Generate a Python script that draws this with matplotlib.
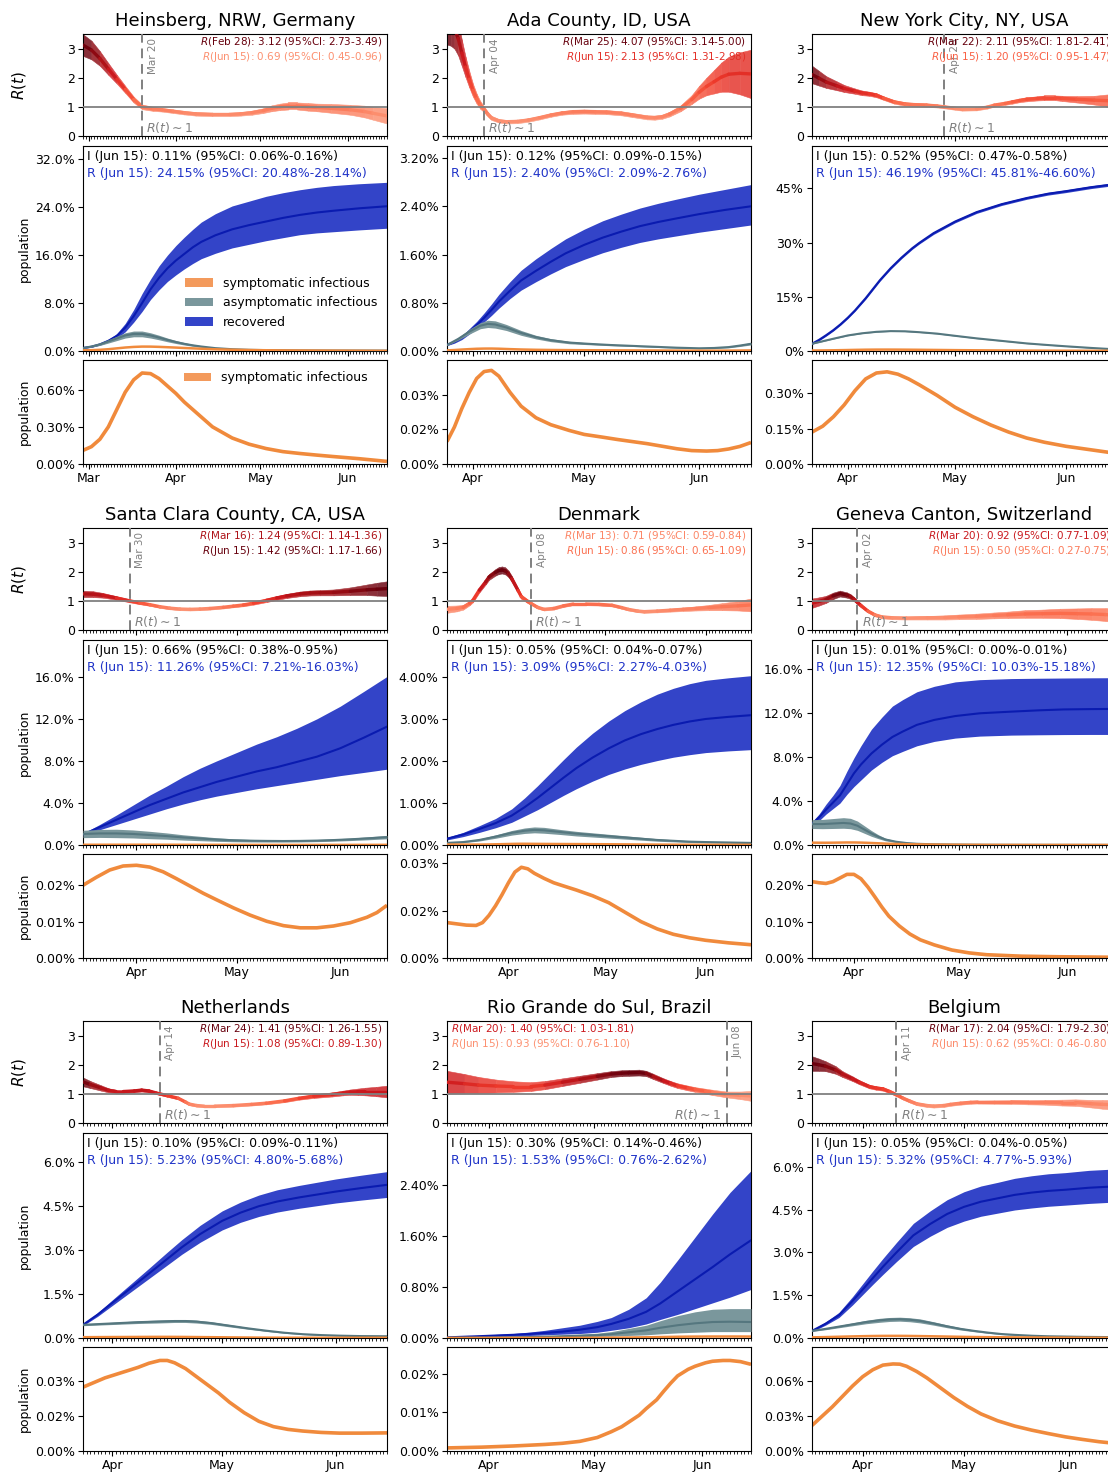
import numpy as np
import matplotlib
matplotlib.use("Agg")
import matplotlib.pyplot as plt
import matplotlib.dates as mdates
from matplotlib.colors import LinearSegmentedColormap, Normalize, to_rgb
from matplotlib.collections import LineCollection
from matplotlib.patches import Patch
from matplotlib.ticker import FixedLocator, FuncFormatter

# ------------------------------------------------------------------ data
TITLES = ["Heinsberg, NRW, Germany", "Ada County, ID, USA", "New York City, NY, USA",
          "Santa Clara County, CA, USA", "Denmark", "Geneva Canton, Switzerland",
          "Netherlands", "Rio Grande do Sul, Brazil", "Belgium"]
START_DATES = ["2020-02-28", "2020-03-25", "2020-03-22", "2020-03-16", "2020-03-13",
               "2020-03-20", "2020-03-24", "2020-03-20", "2020-03-17"]
END_DATE = "2020-06-15"
R1_DATES = ["2020-03-20", "2020-04-04", "2020-04-28", "2020-03-30", "2020-04-08",
            "2020-04-02", "2020-04-14", "2020-06-08", "2020-04-11"]

R_FIRST = [3.12, 4.07, 2.11, 1.24, 0.71, 0.92, 1.41, 1.40, 2.04]
R_FIRST_LO = [2.73, 3.14, 1.81, 1.14, 0.59, 0.77, 1.26, 1.03, 1.79]
R_FIRST_HI = [3.49, 5.00, 2.41, 1.36, 0.84, 1.09, 1.55, 1.81, 2.30]
R_LAST = [0.69, 2.13, 1.20, 1.42, 0.86, 0.50, 1.08, 0.93, 0.62]
R_LAST_LO = [0.45, 1.31, 0.95, 1.17, 0.65, 0.27, 0.89, 0.76, 0.46]
R_LAST_HI = [0.96, 2.98, 1.47, 1.66, 1.09, 0.75, 1.30, 1.10, 0.80]
I_LAST = [0.11, 0.12, 0.52, 0.66, 0.05, 0.01, 0.10, 0.30, 0.05]
I_LAST_LO = [0.06, 0.09, 0.47, 0.38, 0.04, 0.00, 0.09, 0.14, 0.04]
I_LAST_HI = [0.16, 0.15, 0.58, 0.95, 0.07, 0.01, 0.11, 0.46, 0.05]
REC_LAST = [24.15, 2.40, 46.19, 11.26, 3.09, 12.35, 5.23, 1.53, 5.32]
REC_LAST_LO = [20.48, 2.09, 45.81, 7.21, 2.27, 10.03, 4.80, 0.76, 4.77]
REC_LAST_HI = [28.14, 2.76, 46.60, 16.03, 4.03, 15.18, 5.68, 2.62, 5.93]

POP_TICKS = [[0, 8, 16, 24, 32], [0, 0.8, 1.6, 2.4, 3.2], [0, 15, 30, 45],
             [0, 4, 8, 12, 16], [0, 1, 2, 3, 4], [0, 4, 8, 12, 16],
             [0, 1.5, 3.0, 4.5, 6.0], [0, 0.8, 1.6, 2.4], [0, 1.5, 3.0, 4.5, 6.0]]
POP_DEC = [1, 2, 0, 1, 2, 1, 1, 2, 1]
POP_YMAX = [34.2, 3.4, 56.7, 19.5, 4.88, 18.6, 7.0, 3.21, 7.19]
SYM_TICKS = [[0, 0.3, 0.6], [0, 0.015, 0.03], [0, 0.15, 0.30], [0, 0.01, 0.02],
             [0, 0.015, 0.03], [0, 0.1, 0.2], [0, 0.015, 0.03], [0, 0.01, 0.02],
             [0, 0.03, 0.06]]
SYM_YMAX = [0.84, 0.045, 0.44, 0.0286, 0.0329, 0.286, 0.0448, 0.027, 0.0896]

# --- Heinsberg
HEI_R_DAYS = [0, 3, 6, 9, 12, 15, 18, 21, 25, 28, 32, 36, 40, 46, 52, 56, 60, 64, 67, 70, 73, 76, 80, 83, 88, 95, 100, 103, 108]
HEI_R = [3.12, 2.95, 2.66, 2.3, 1.95, 1.6, 1.25, 1.0, 0.93, 0.9, 0.85, 0.8, 0.76, 0.74, 0.74, 0.76, 0.8, 0.87, 0.95, 1.0, 1.03, 1.03, 1.0, 0.98, 0.95, 0.9, 0.84, 0.78, 0.69]
HEI_R_ERR = [0.37, 0.32, 0.25, 0.2, 0.15, 0.12, 0.1, 0.08, 0.07, 0.06, 0.06, 0.06, 0.06, 0.06, 0.06, 0.06, 0.07, 0.08, 0.1, 0.11, 0.12, 0.12, 0.13, 0.13, 0.15, 0.17, 0.2, 0.22, 0.26]
HEI_P_DAYS = [0, 3, 6, 9, 12, 15, 18, 21, 24, 27, 30, 33, 36, 39, 42, 47, 53, 59, 65, 71, 77, 83, 89, 98, 108]
HEI_REC = [0.5, 0.7, 1.1, 1.7, 2.5, 3.9, 5.8, 8.0, 10.3, 12.2, 13.8, 15.1, 16.2, 17.3, 18.2, 19.3, 20.3, 21.0, 21.6, 22.2, 22.7, 23.1, 23.4, 23.8, 24.15]
HEI_REC_LO = [0.46, 0.63, 0.97, 1.45, 2.1, 3.2, 4.8, 6.6, 8.6, 10.2, 11.6, 12.7, 13.7, 14.6, 15.4, 16.3, 17.2, 17.8, 18.4, 18.9, 19.4, 19.7, 19.9, 20.2, 20.48]
HEI_REC_HI = [0.54, 0.77, 1.25, 1.95, 2.9, 4.6, 6.9, 9.6, 12.0, 14.2, 16.0, 17.6, 19.0, 20.3, 21.5, 22.9, 24.2, 25.0, 25.8, 26.4, 26.9, 27.3, 27.6, 27.9, 28.14]
HEI_A_DAYS = [0, 3, 6, 9, 12, 15, 18, 21, 24, 27, 30, 33, 36, 39, 42, 47, 53, 59, 65, 77, 89, 108]
HEI_ASY = [0.5, 0.75, 1.1, 1.6, 2.1, 2.6, 2.85, 2.85, 2.6, 2.25, 1.85, 1.5, 1.2, 0.95, 0.75, 0.48, 0.3, 0.2, 0.15, 0.1, 0.08, 0.07]
HEI_ASY_LO = [0.45, 0.65, 0.93, 1.33, 1.74, 2.16, 2.37, 2.37, 2.16, 1.87, 1.54, 1.25, 1.0, 0.79, 0.62, 0.4, 0.25, 0.17, 0.12, 0.08, 0.065, 0.055]
HEI_ASY_HI = [0.55, 0.85, 1.27, 1.87, 2.46, 3.04, 3.33, 3.33, 3.04, 2.63, 2.16, 1.75, 1.4, 1.11, 0.88, 0.56, 0.35, 0.23, 0.18, 0.12, 0.095, 0.085]
HEI_S_DAYS = [0, 3, 6, 9, 12, 15, 18, 21, 24, 27, 30, 33, 36, 41, 46, 53, 59, 65, 71, 77, 83, 89, 98, 108]
HEI_SYM = [0.11, 0.14, 0.20, 0.30, 0.44, 0.58, 0.68, 0.735, 0.73, 0.69, 0.63, 0.57, 0.50, 0.40, 0.30, 0.21, 0.16, 0.125, 0.10, 0.085, 0.072, 0.06, 0.043, 0.021]

# --- Ada County
ADA_R_DAYS = [0, 1, 2, 3, 4, 5, 6, 7, 8, 9, 10, 11, 12, 14, 16, 19, 22, 25, 28, 31, 34, 37, 40, 43, 47, 50, 54, 56, 58, 60, 63, 66, 68, 70, 72, 74, 76, 79, 82]
ADA_R = [4.07, 3.95, 3.7, 3.35, 2.85, 2.37, 1.95, 1.57, 1.28, 1.06, 0.92, 0.75, 0.62, 0.52, 0.49, 0.5, 0.55, 0.63, 0.72, 0.79, 0.83, 0.84, 0.83, 0.82, 0.78, 0.72, 0.64, 0.63, 0.66, 0.75, 0.95, 1.25, 1.5, 1.7, 1.86, 2.02, 2.12, 2.15, 2.13]
ADA_R_ERR = [0.93, 0.85, 0.7, 0.58, 0.45, 0.35, 0.28, 0.22, 0.17, 0.13, 0.1, 0.08, 0.07, 0.06, 0.06, 0.06, 0.06, 0.06, 0.06, 0.06, 0.07, 0.07, 0.07, 0.07, 0.07, 0.07, 0.07, 0.07, 0.07, 0.08, 0.1, 0.15, 0.22, 0.3, 0.4, 0.5, 0.6, 0.72, 0.83]
ADA_P_DAYS = [0, 2, 4, 6, 8, 10, 12, 14, 17, 20, 24, 28, 32, 37, 42, 47, 52, 57, 62, 68, 75, 82]
ADA_REC = [0.1, 0.15, 0.22, 0.32, 0.43, 0.55, 0.68, 0.82, 1.0, 1.17, 1.33, 1.48, 1.62, 1.76, 1.88, 1.98, 2.07, 2.14, 2.2, 2.27, 2.34, 2.40]
ADA_REC_LO = [0.09, 0.13, 0.19, 0.28, 0.37, 0.48, 0.59, 0.71, 0.87, 1.01, 1.15, 1.28, 1.4, 1.52, 1.63, 1.72, 1.8, 1.86, 1.91, 1.97, 2.03, 2.09]
ADA_REC_HI = [0.11, 0.17, 0.25, 0.37, 0.49, 0.63, 0.78, 0.94, 1.15, 1.34, 1.53, 1.7, 1.86, 2.02, 2.16, 2.27, 2.37, 2.45, 2.52, 2.6, 2.68, 2.76]
ADA_A_DAYS = [0, 3, 6, 9, 11, 13, 16, 20, 24, 28, 33, 38, 44, 50, 56, 62, 68, 72, 76, 79, 82]
ADA_ASY = [0.1, 0.2, 0.32, 0.42, 0.45, 0.44, 0.39, 0.3, 0.23, 0.18, 0.14, 0.12, 0.1, 0.085, 0.07, 0.055, 0.045, 0.05, 0.065, 0.09, 0.12]
ADA_ASY_LO = [0.09, 0.18, 0.28, 0.37, 0.39, 0.38, 0.34, 0.26, 0.2, 0.155, 0.12, 0.105, 0.088, 0.075, 0.06, 0.047, 0.037, 0.04, 0.053, 0.075, 0.1]
ADA_ASY_HI = [0.11, 0.22, 0.36, 0.47, 0.51, 0.5, 0.44, 0.34, 0.26, 0.205, 0.16, 0.135, 0.112, 0.095, 0.08, 0.063, 0.053, 0.06, 0.077, 0.105, 0.14]
ADA_S_DAYS = [0, 2, 4, 6, 8, 10, 12, 14, 17, 20, 24, 28, 33, 37, 42, 46, 50, 54, 58, 62, 66, 70, 73, 76, 79, 82]
ADA_SYM = [0.0097, 0.016, 0.024, 0.031, 0.037, 0.040, 0.0405, 0.038, 0.031, 0.025, 0.02, 0.017, 0.0145, 0.0128, 0.0116, 0.0106, 0.0097, 0.0088, 0.0077, 0.0066, 0.0058, 0.0056, 0.0058, 0.0065, 0.0076, 0.0093]

# --- New York City
NYC_R_DAYS = [0, 2, 4, 7, 9, 12, 14, 16, 18, 20, 23, 26, 28, 32, 35, 37, 40, 42, 46, 49, 51, 54, 56, 58, 60, 63, 65, 68, 70, 74, 79, 83, 85]
NYC_R = [2.11, 1.98, 1.85, 1.72, 1.63, 1.54, 1.48, 1.45, 1.40, 1.3, 1.17, 1.1, 1.08, 1.06, 1.03, 1.0, 0.95, 0.92, 0.93, 0.99, 1.06, 1.12, 1.17, 1.22, 1.26, 1.29, 1.31, 1.31, 1.29, 1.26, 1.23, 1.21, 1.20]
NYC_R_ERR = [0.3, 0.25, 0.2, 0.15, 0.12, 0.09, 0.08, 0.07, 0.07, 0.06, 0.06, 0.06, 0.06, 0.06, 0.05, 0.05, 0.05, 0.05, 0.05, 0.05, 0.05, 0.05, 0.06, 0.06, 0.07, 0.07, 0.08, 0.08, 0.09, 0.11, 0.15, 0.22, 0.26]
NYC_P_DAYS = [0, 2, 4, 6, 8, 10, 12, 15, 17, 19, 22, 25, 28, 30, 34, 40, 46, 53, 60, 66, 71, 78, 85]
NYC_REC = [2.0, 3.1, 4.4, 5.8, 7.4, 9.2, 11.2, 14.6, 17.1, 19.6, 22.9, 25.8, 28.4, 29.9, 32.6, 35.8, 38.4, 40.6, 42.3, 43.5, 44.2, 45.3, 46.19]
NYC_REC_LO = [1.8, 2.85, 4.15, 5.55, 7.15, 8.95, 10.95, 14.3, 16.8, 19.3, 22.6, 25.5, 28.1, 29.6, 32.25, 35.45, 38.05, 40.25, 41.95, 43.12, 43.82, 44.92, 45.81]
NYC_REC_HI = [2.2, 3.35, 4.65, 6.05, 7.75, 9.55, 11.55, 14.95, 17.45, 19.95, 23.25, 26.15, 28.75, 30.25, 32.95, 36.15, 38.75, 40.95, 42.65, 43.87, 44.57, 45.67, 46.60]
NYC_A_DAYS = [0, 3, 6, 10, 14, 18, 22, 26, 30, 35, 40, 46, 53, 60, 66, 71, 78, 85]
NYC_ASY = [2.0, 2.7, 3.4, 4.3, 4.9, 5.3, 5.5, 5.45, 5.2, 4.8, 4.2, 3.5, 2.8, 2.1, 1.65, 1.3, 0.85, 0.45]
NYC_ASY_LO = [1.92, 2.62, 3.32, 4.22, 4.82, 5.22, 5.42, 5.37, 5.12, 4.72, 4.12, 3.42, 2.73, 2.04, 1.6, 1.25, 0.81, 0.42]
NYC_ASY_HI = [2.08, 2.78, 3.48, 4.38, 4.98, 5.38, 5.58, 5.53, 5.28, 4.88, 4.28, 3.58, 2.87, 2.16, 1.7, 1.35, 0.89, 0.48]
NYC_S_DAYS = [0, 3, 6, 9, 12, 15, 18, 21, 24, 27, 30, 35, 40, 45, 50, 55, 60, 65, 71, 78, 85]
NYC_SYM = [0.135, 0.16, 0.2, 0.25, 0.31, 0.36, 0.385, 0.39, 0.38, 0.36, 0.335, 0.29, 0.24, 0.2, 0.165, 0.135, 0.11, 0.092, 0.075, 0.06, 0.045]

# --- Santa Clara County
SCC_R_DAYS = [0, 3, 6, 10, 14, 17, 20, 23, 26, 29, 32, 35, 38, 42, 45, 48, 51, 55, 58, 61, 65, 68, 71, 75, 80, 85, 88, 91]
SCC_R = [1.24, 1.23, 1.19, 1.1, 1.0, 0.93, 0.87, 0.8, 0.75, 0.72, 0.71, 0.72, 0.74, 0.78, 0.82, 0.86, 0.92, 1.02, 1.1, 1.17, 1.24, 1.27, 1.28, 1.29, 1.33, 1.38, 1.4, 1.42]
SCC_R_ERR = [0.11, 0.1, 0.08, 0.06, 0.05, 0.045, 0.04, 0.04, 0.04, 0.04, 0.04, 0.04, 0.04, 0.04, 0.04, 0.045, 0.05, 0.06, 0.065, 0.07, 0.08, 0.085, 0.09, 0.1, 0.13, 0.18, 0.22, 0.25]
SCC_P_DAYS = [0, 5, 10, 15, 20, 25, 30, 35, 40, 46, 52, 58, 64, 70, 77, 84, 91]
SCC_REC = [1.0, 1.7, 2.4, 3.1, 3.8, 4.4, 5.0, 5.5, 6.0, 6.5, 7.0, 7.4, 7.9, 8.4, 9.2, 10.2, 11.26]
SCC_REC_LO = [0.9, 1.45, 1.95, 2.45, 2.95, 3.45, 3.9, 4.3, 4.65, 5.0, 5.35, 5.65, 5.95, 6.25, 6.6, 6.9, 7.21]
SCC_REC_HI = [1.1, 1.95, 2.85, 3.8, 4.75, 5.6, 6.5, 7.3, 8.0, 8.8, 9.6, 10.3, 11.1, 12.0, 13.2, 14.6, 16.03]
SCC_A_DAYS = [0, 5, 10, 15, 20, 25, 30, 35, 40, 45, 50, 55, 60, 65, 70, 75, 80, 85, 91]
SCC_ASY = [1.05, 1.1, 1.1, 1.05, 0.95, 0.85, 0.72, 0.62, 0.52, 0.45, 0.41, 0.39, 0.38, 0.39, 0.42, 0.47, 0.54, 0.63, 0.75]
SCC_ASY_LO = [0.7, 0.72, 0.7, 0.67, 0.6, 0.55, 0.47, 0.41, 0.35, 0.31, 0.29, 0.28, 0.28, 0.29, 0.32, 0.36, 0.42, 0.49, 0.59]
SCC_ASY_HI = [1.4, 1.48, 1.5, 1.43, 1.3, 1.15, 0.97, 0.83, 0.69, 0.59, 0.53, 0.5, 0.48, 0.49, 0.52, 0.58, 0.66, 0.77, 0.91]
SCC_S_DAYS = [0, 4, 8, 12, 16, 20, 24, 28, 32, 36, 40, 45, 50, 55, 60, 65, 70, 75, 80, 85, 88, 91]
SCC_SYM = [0.020, 0.0222, 0.0242, 0.0253, 0.0255, 0.025, 0.0237, 0.0218, 0.0198, 0.0178, 0.016, 0.0138, 0.0118, 0.0101, 0.0089, 0.0083, 0.0083, 0.0088, 0.0097, 0.0112, 0.0125, 0.0145]

# --- Denmark
DEN_R_DAYS = [0, 3, 5, 7, 8, 10, 12, 13, 15, 16, 17, 18, 19, 20, 22, 23, 25, 26, 28, 30, 33, 36, 39, 43, 47, 51, 54, 56, 59, 61, 65, 69, 73, 77, 81, 85, 90, 94]
DEN_R = [0.71, 0.74, 0.78, 0.92, 1.02, 1.37, 1.66, 1.82, 1.98, 2.04, 2.06, 2.03, 1.93, 1.76, 1.35, 1.14, 0.98, 0.91, 0.78, 0.71, 0.74, 0.83, 0.89, 0.89, 0.88, 0.85, 0.77, 0.71, 0.65, 0.63, 0.65, 0.68, 0.71, 0.74, 0.77, 0.80, 0.83, 0.86]
DEN_R_ERR = [0.12, 0.1, 0.08, 0.07, 0.07, 0.08, 0.09, 0.1, 0.11, 0.12, 0.12, 0.12, 0.11, 0.1, 0.08, 0.07, 0.06, 0.05, 0.045, 0.04, 0.04, 0.04, 0.04, 0.04, 0.04, 0.04, 0.04, 0.04, 0.04, 0.04, 0.045, 0.05, 0.06, 0.07, 0.09, 0.12, 0.16, 0.22]
DEN_P_DAYS = [0, 5, 10, 15, 20, 24, 28, 32, 36, 40, 45, 50, 55, 60, 65, 70, 75, 80, 87, 94]
DEN_REC = [0.15, 0.25, 0.38, 0.52, 0.7, 0.9, 1.12, 1.36, 1.6, 1.83, 2.08, 2.3, 2.49, 2.64, 2.76, 2.86, 2.94, 3.0, 3.05, 3.09]
DEN_REC_LO = [0.12, 0.2, 0.3, 0.41, 0.54, 0.69, 0.84, 1.01, 1.18, 1.34, 1.52, 1.68, 1.81, 1.92, 2.01, 2.09, 2.15, 2.2, 2.24, 2.27]
DEN_REC_HI = [0.18, 0.3, 0.46, 0.63, 0.86, 1.12, 1.41, 1.72, 2.03, 2.33, 2.66, 2.95, 3.2, 3.41, 3.59, 3.73, 3.84, 3.92, 3.98, 4.03]
DEN_A_DAYS = [0, 5, 10, 15, 20, 24, 27, 30, 35, 40, 45, 50, 55, 60, 65, 70, 75, 80, 87, 94]
DEN_ASY = [0.05, 0.07, 0.12, 0.2, 0.29, 0.34, 0.36, 0.35, 0.31, 0.27, 0.24, 0.21, 0.18, 0.15, 0.12, 0.1, 0.08, 0.07, 0.06, 0.05]
DEN_ASY_LO = [0.04, 0.055, 0.095, 0.16, 0.235, 0.275, 0.29, 0.28, 0.25, 0.215, 0.19, 0.165, 0.14, 0.115, 0.09, 0.075, 0.06, 0.052, 0.045, 0.035]
DEN_ASY_HI = [0.06, 0.085, 0.145, 0.24, 0.345, 0.405, 0.43, 0.42, 0.37, 0.325, 0.29, 0.255, 0.22, 0.185, 0.15, 0.125, 0.1, 0.088, 0.075, 0.065]
DEN_S_DAYS = [0, 3, 6, 9, 11, 13, 15, 17, 19, 21, 23, 25, 27, 30, 33, 36, 40, 45, 50, 55, 60, 65, 70, 75, 80, 87, 94]
DEN_SYM = [0.0112, 0.0108, 0.0104, 0.0103, 0.0112, 0.0135, 0.0165, 0.02, 0.0238, 0.0272, 0.0287, 0.0282, 0.0268, 0.0252, 0.0238, 0.0228, 0.0215, 0.0197, 0.0175, 0.0145, 0.0115, 0.0092, 0.0075, 0.0064, 0.0056, 0.0048, 0.0042]

# --- Geneva Canton
GEN_R_DAYS = [0, 2, 4, 6, 8, 10, 11, 12, 13, 14, 16, 18, 20, 23, 27, 33, 38, 42, 47, 52, 56, 61, 66, 71, 76, 80, 84, 87]
GEN_R = [0.92, 0.98, 1.05, 1.17, 1.25, 1.2, 1.15, 1.06, 0.95, 0.84, 0.65, 0.52, 0.45, 0.42, 0.41, 0.42, 0.43, 0.45, 0.47, 0.5, 0.52, 0.55, 0.56, 0.57, 0.56, 0.55, 0.53, 0.50]
GEN_R_ERR = [0.16, 0.14, 0.12, 0.11, 0.1, 0.09, 0.08, 0.07, 0.06, 0.06, 0.05, 0.05, 0.05, 0.05, 0.05, 0.06, 0.07, 0.08, 0.09, 0.1, 0.11, 0.13, 0.14, 0.16, 0.18, 0.2, 0.22, 0.24]
GEN_P_DAYS = [0, 2, 4, 6, 8, 10, 12, 14, 17, 20, 23, 26, 30, 35, 41, 48, 57, 65, 72, 80, 87]
GEN_REC = [1.9, 2.5, 3.2, 3.85, 4.5, 5.5, 6.5, 7.3, 8.3, 9.1, 9.8, 10.3, 10.9, 11.35, 11.7, 11.95, 12.1, 12.22, 12.3, 12.33, 12.35]
GEN_REC_LO = [1.7, 2.2, 2.8, 3.3, 3.8, 4.6, 5.3, 5.9, 6.8, 7.5, 8.1, 8.5, 9.0, 9.4, 9.7, 9.88, 9.97, 10.0, 10.02, 10.03, 10.03]
GEN_REC_HI = [2.1, 2.8, 3.7, 4.5, 5.4, 6.7, 7.9, 9.0, 10.5, 11.6, 12.6, 13.2, 13.9, 14.4, 14.8, 15.0, 15.1, 15.13, 15.15, 15.17, 15.18]
GEN_A_DAYS = [0, 3, 6, 9, 11, 13, 15, 17, 19, 21, 24, 27, 30, 35, 40, 50, 60, 87]
GEN_ASY = [1.9, 1.9, 1.95, 2.0, 1.95, 1.75, 1.4, 1.05, 0.75, 0.5, 0.3, 0.18, 0.11, 0.06, 0.04, 0.02, 0.015, 0.01]
GEN_ASY_LO = [1.5, 1.48, 1.5, 1.52, 1.48, 1.33, 1.06, 0.79, 0.57, 0.38, 0.23, 0.14, 0.085, 0.045, 0.03, 0.015, 0.011, 0.007]
GEN_ASY_HI = [2.3, 2.32, 2.4, 2.48, 2.42, 2.17, 1.74, 1.31, 0.93, 0.62, 0.37, 0.22, 0.135, 0.075, 0.05, 0.025, 0.019, 0.013]
GEN_S_DAYS = [0, 2, 4, 6, 8, 10, 12, 14, 16, 18, 20, 22, 25, 28, 31, 35, 40, 45, 50, 60, 70, 87]
GEN_SYM = [0.21, 0.207, 0.205, 0.21, 0.22, 0.23, 0.23, 0.218, 0.195, 0.168, 0.14, 0.115, 0.088, 0.066, 0.05, 0.036, 0.022, 0.014, 0.009, 0.005, 0.0035, 0.002]

# --- Netherlands
NED_R_DAYS = [0, 2, 5, 7, 9, 11, 14, 16, 18, 20, 21, 23, 26, 28, 29, 31, 33, 36, 41, 46, 50, 55, 59, 63, 68, 71, 73, 75, 77, 80, 83]
NED_R = [1.41, 1.32, 1.2, 1.12, 1.08, 1.08, 1.1, 1.13, 1.1, 1.03, 1.0, 0.94, 0.85, 0.72, 0.65, 0.6, 0.58, 0.58, 0.6, 0.64, 0.68, 0.76, 0.85, 0.92, 0.98, 1.03, 1.06, 1.07, 1.08, 1.08, 1.08]
NED_R_ERR = [0.15, 0.12, 0.09, 0.07, 0.06, 0.05, 0.05, 0.05, 0.05, 0.04, 0.04, 0.04, 0.04, 0.04, 0.04, 0.04, 0.04, 0.04, 0.04, 0.04, 0.04, 0.045, 0.05, 0.06, 0.07, 0.08, 0.09, 0.11, 0.13, 0.16, 0.2]
NED_P_DAYS = [0, 4, 8, 13, 18, 23, 27, 32, 38, 43, 48, 53, 59, 64, 69, 76, 83]
NED_REC = [0.45, 0.8, 1.2, 1.7, 2.2, 2.7, 3.1, 3.55, 4.0, 4.28, 4.5, 4.66, 4.8, 4.9, 5.0, 5.12, 5.23]
NED_REC_LO = [0.42, 0.74, 1.11, 1.57, 2.03, 2.49, 2.86, 3.27, 3.69, 3.95, 4.15, 4.3, 4.43, 4.52, 4.61, 4.71, 4.80]
NED_REC_HI = [0.48, 0.86, 1.3, 1.84, 2.38, 2.93, 3.36, 3.85, 4.34, 4.64, 4.88, 5.06, 5.21, 5.32, 5.43, 5.56, 5.68]
NED_A_DAYS = [0, 5, 10, 15, 20, 25, 28, 31, 35, 40, 45, 50, 55, 60, 65, 70, 76, 83]
NED_ASY = [0.45, 0.48, 0.51, 0.54, 0.56, 0.58, 0.58, 0.56, 0.51, 0.42, 0.33, 0.25, 0.18, 0.13, 0.1, 0.08, 0.065, 0.06]
NED_ASY_LO = [0.42, 0.445, 0.47, 0.495, 0.51, 0.53, 0.53, 0.51, 0.465, 0.38, 0.3, 0.225, 0.16, 0.115, 0.088, 0.07, 0.056, 0.05]
NED_ASY_HI = [0.48, 0.515, 0.55, 0.585, 0.61, 0.63, 0.63, 0.61, 0.555, 0.46, 0.36, 0.275, 0.2, 0.145, 0.112, 0.09, 0.074, 0.07]
NED_S_DAYS = [0, 3, 6, 9, 12, 15, 18, 21, 23, 25, 28, 31, 34, 37, 40, 44, 48, 52, 56, 60, 65, 70, 76, 83]
NED_SYM = [0.0275, 0.0295, 0.0315, 0.033, 0.0345, 0.036, 0.0378, 0.039, 0.039, 0.038, 0.0355, 0.032, 0.0285, 0.025, 0.021, 0.0165, 0.0128, 0.0105, 0.0093, 0.0086, 0.008, 0.0077, 0.0077, 0.0078]

# --- Rio Grande do Sul
RGS_R_DAYS = [0, 5, 9, 14, 19, 24, 28, 33, 38, 43, 47, 50, 52, 55, 57, 59, 62, 64, 66, 69, 71, 74, 76, 80, 84, 87]
RGS_R = [1.40, 1.35, 1.3, 1.27, 1.25, 1.25, 1.3, 1.4, 1.5, 1.6, 1.68, 1.71, 1.72, 1.73, 1.7, 1.6, 1.45, 1.36, 1.28, 1.2, 1.15, 1.09, 1.05, 0.98, 0.95, 0.93]
RGS_R_ERR = [0.39, 0.33, 0.28, 0.22, 0.18, 0.15, 0.14, 0.13, 0.12, 0.11, 0.1, 0.1, 0.1, 0.1, 0.09, 0.09, 0.08, 0.08, 0.08, 0.08, 0.08, 0.085, 0.09, 0.1, 0.13, 0.17]
RGS_P_DAYS = [0, 10, 19, 24, 28, 33, 38, 43, 47, 52, 57, 61, 66, 71, 76, 81, 87]
RGS_REC = [0.01, 0.03, 0.05, 0.065, 0.08, 0.1, 0.13, 0.17, 0.22, 0.3, 0.41, 0.54, 0.73, 0.92, 1.11, 1.31, 1.53]
RGS_REC_LO = [0.01, 0.02, 0.03, 0.04, 0.05, 0.06, 0.07, 0.09, 0.12, 0.16, 0.22, 0.29, 0.37, 0.46, 0.55, 0.64, 0.76]
RGS_REC_HI = [0.01, 0.045, 0.07, 0.095, 0.12, 0.16, 0.2, 0.26, 0.32, 0.45, 0.63, 0.87, 1.22, 1.58, 1.94, 2.28, 2.62]
RGS_A_DAYS = [0, 10, 19, 28, 38, 43, 47, 52, 57, 61, 66, 71, 76, 81, 87]
RGS_ASY = [0.005, 0.007, 0.01, 0.02, 0.035, 0.045, 0.06, 0.09, 0.12, 0.16, 0.2, 0.23, 0.25, 0.255, 0.25]
RGS_ASY_LO = [0.004, 0.005, 0.007, 0.012, 0.02, 0.025, 0.03, 0.04, 0.05, 0.065, 0.08, 0.09, 0.1, 0.1, 0.1]
RGS_ASY_HI = [0.006, 0.009, 0.015, 0.03, 0.06, 0.075, 0.1, 0.15, 0.2, 0.27, 0.35, 0.41, 0.45, 0.46, 0.46]
RGS_S_DAYS = [0, 10, 19, 28, 33, 38, 43, 47, 50, 52, 55, 57, 60, 62, 64, 66, 69, 71, 74, 76, 79, 81, 84, 87]
RGS_SYM = [0.0008, 0.001, 0.0013, 0.0017, 0.002, 0.0025, 0.0035, 0.005, 0.0063, 0.0075, 0.0093, 0.011, 0.0133, 0.0155, 0.0176, 0.0195, 0.0212, 0.022, 0.0229, 0.0233, 0.0235, 0.0235, 0.0232, 0.0225]

# --- Belgium
BEL_R_DAYS = [0, 2, 4, 7, 9, 12, 14, 17, 19, 21, 23, 25, 27, 29, 31, 34, 36, 39, 41, 44, 47, 49, 54, 59, 64, 69, 74, 78, 83, 86, 88, 90]
BEL_R = [2.04, 2.0, 1.95, 1.82, 1.68, 1.52, 1.4, 1.25, 1.2, 1.17, 1.08, 0.97, 0.85, 0.75, 0.66, 0.6, 0.58, 0.6, 0.64, 0.68, 0.71, 0.72, 0.72, 0.72, 0.71, 0.71, 0.7, 0.7, 0.66, 0.64, 0.63, 0.62]
BEL_R_ERR = [0.25, 0.21, 0.17, 0.13, 0.1, 0.08, 0.07, 0.06, 0.06, 0.06, 0.055, 0.05, 0.05, 0.05, 0.05, 0.05, 0.05, 0.05, 0.05, 0.05, 0.05, 0.05, 0.055, 0.06, 0.07, 0.08, 0.1, 0.11, 0.13, 0.15, 0.16, 0.17]
BEL_P_DAYS = [0, 4, 8, 12, 15, 18, 21, 25, 30, 35, 40, 45, 50, 55, 60, 65, 70, 75, 82, 90]
BEL_REC = [0.25, 0.5, 0.8, 1.3, 1.7, 2.1, 2.5, 3.0, 3.6, 4.0, 4.35, 4.6, 4.78, 4.9, 5.02, 5.1, 5.16, 5.2, 5.27, 5.32]
BEL_REC_LO = [0.22, 0.45, 0.72, 1.16, 1.52, 1.88, 2.23, 2.68, 3.21, 3.57, 3.88, 4.1, 4.27, 4.38, 4.49, 4.56, 4.62, 4.66, 4.72, 4.77]
BEL_REC_HI = [0.28, 0.56, 0.9, 1.45, 1.9, 2.35, 2.79, 3.35, 4.02, 4.46, 4.85, 5.13, 5.33, 5.46, 5.6, 5.69, 5.76, 5.8, 5.88, 5.93]
BEL_A_DAYS = [0, 4, 8, 12, 16, 20, 23, 26, 29, 32, 36, 40, 44, 48, 52, 56, 60, 65, 70, 80, 90]
BEL_ASY = [0.25, 0.32, 0.4, 0.48, 0.56, 0.62, 0.65, 0.66, 0.64, 0.6, 0.51, 0.41, 0.32, 0.25, 0.19, 0.14, 0.11, 0.08, 0.06, 0.04, 0.03]
BEL_ASY_LO = [0.23, 0.29, 0.36, 0.43, 0.5, 0.55, 0.58, 0.59, 0.57, 0.53, 0.45, 0.36, 0.28, 0.22, 0.165, 0.12, 0.095, 0.07, 0.05, 0.034, 0.025]
BEL_ASY_HI = [0.27, 0.35, 0.44, 0.53, 0.62, 0.69, 0.72, 0.73, 0.71, 0.67, 0.57, 0.46, 0.36, 0.28, 0.215, 0.16, 0.125, 0.09, 0.07, 0.046, 0.035]
BEL_S_DAYS = [0, 3, 6, 9, 12, 15, 18, 21, 24, 26, 28, 31, 34, 38, 42, 46, 50, 55, 60, 65, 70, 75, 80, 85, 90]
BEL_SYM = [0.022, 0.03, 0.038, 0.047, 0.056, 0.064, 0.07, 0.074, 0.075, 0.0748, 0.073, 0.0685, 0.063, 0.0545, 0.046, 0.0385, 0.032, 0.026, 0.0215, 0.018, 0.015, 0.0122, 0.01, 0.008, 0.0065]

# table built from the named arrays above
KEYS = ["r_days", "r", "r_err", "p_days", "rec", "rec_lo", "rec_hi",
        "a_days", "asy", "asy_lo", "asy_hi", "s_days", "sym"]
PANELS = []
for pre in ["HEI", "ADA", "NYC", "SCC", "DEN", "GEN", "NED", "RGS", "BEL"]:
    g = globals()
    PANELS.append({k: g[f"{pre}_{k.upper()}"] for k in KEYS})

# ------------------------------------------------------------------ style
W, H = 1108, 1472
COL_LEFT = [83, 447, 812]
GROUP_TOP = [34, 528, 1021]
AX_W = 304

REC_FILL = "#3344c8"
REC_LINE = "#0a1bb0"
ASY_FILL = "#7a979c"
ASY_LINE = "#55777f"
SYM_FILL = "#f39a5c"
SYM_LINE = "#f08a3c"
GRAY = "#808080"
RCMAP = LinearSegmentedColormap.from_list("reds_t", plt.cm.Reds(np.linspace(0.38, 1.0, 256)))


def rect(x0, y0, w, h):
    return [x0 / W, 1 - (y0 + h) / H, w / W, h / H]


def to_num(start, days):
    d = np.datetime64(start) + np.array(days).astype("timedelta64[D]")
    return mdates.date2num(d)


def fmt_pct(dec):
    return FuncFormatter(lambda v, _: f"{v + 1e-9:.{dec}f}%")


def lighten(c, a):
    r = np.array(to_rgb(c))
    return tuple(r * a + (1 - a))


plt.rcParams["font.family"] = "DejaVu Sans"
fig = plt.figure(figsize=(W / 100, H / 100), dpi=100)

for k, p in enumerate(PANELS):
    row, col = divmod(k, 3)
    left, top = COL_LEFT[col], GROUP_TOP[row]
    axR = fig.add_axes(rect(left, top, AX_W, 102))
    axP = fig.add_axes(rect(left, top + 112, AX_W, 205))
    axS = fig.add_axes(rect(left, top + 326, AX_W, 104))

    x0 = mdates.date2num(np.datetime64(START_DATES[k]))
    x1 = mdates.date2num(np.datetime64(END_DATE))

    # ---------------- R(t)
    xr = to_num(START_DATES[k], p["r_days"])
    r = np.array(p["r"], float)
    e = np.array(p["r_err"], float)
    norm = Normalize(r.min(), r.max())
    cols = [RCMAP(norm(0.5 * (r[i] + r[i + 1]))) for i in range(len(r) - 1)]
    for i in range(len(r) - 1):
        c = lighten(cols[i][:3], 0.82)
        axR.fill_between(xr[i:i + 2], (r - e)[i:i + 2], (r + e)[i:i + 2],
                         color=c, lw=0.4, edgecolor=c, zorder=2)
    segs = np.stack([np.column_stack([xr[:-1], r[:-1]]),
                     np.column_stack([xr[1:], r[1:]])], axis=1)
    axR.add_collection(LineCollection(segs, colors=cols, linewidths=2.4,
                                      capstyle="round", zorder=3))
    axR.axhline(1, color=GRAY, lw=1.3, zorder=4)
    xv = mdates.date2num(np.datetime64(R1_DATES[k]))
    axR.axvline(xv, color=GRAY, lw=1.4, ls=(0, (5, 3)), zorder=5)
    vlab = np.datetime64(R1_DATES[k]).astype(object).strftime("%b %d")
    axR.annotate(vlab, xy=(xv, 1), xycoords=("data", "axes fraction"),
                 xytext=(4, -3), textcoords="offset points", rotation=90,
                 ha="left", va="top", fontsize=7.5, color=GRAY)
    if k == 7:
        axR.annotate(r"$R(t) \sim 1$", xy=(xv, 0), xycoords=("data", "axes fraction"),
                     xytext=(-4, 1), textcoords="offset points", ha="right",
                     va="bottom", fontsize=9, color=GRAY)
    else:
        axR.annotate(r"$R(t) \sim 1$", xy=(xv, 0), xycoords=("data", "axes fraction"),
                     xytext=(3, 1), textcoords="offset points", ha="left",
                     va="bottom", fontsize=9, color=GRAY)
    d0 = np.datetime64(START_DATES[k]).astype(object).strftime("%b %d")
    t1 = rf"$R$({d0}): {R_FIRST[k]:.2f} (95%CI: {R_FIRST_LO[k]:.2f}-{R_FIRST_HI[k]:.2f})"
    t2 = rf"$R$(Jun 15): {R_LAST[k]:.2f} (95%CI: {R_LAST_LO[k]:.2f}-{R_LAST_HI[k]:.2f})"
    c1 = RCMAP(norm(R_FIRST[k]))
    c2 = RCMAP(norm(R_LAST[k]))
    if k == 7:
        tx, ha = 4 / AX_W, "left"
    else:
        tx, ha = 1 - 5 / AX_W, "right"
    axR.text(tx, 0.922, t1, transform=axR.transAxes, ha=ha, va="center",
             fontsize=7.5, color=c1, zorder=6)
    axR.text(tx, 0.775, t2, transform=axR.transAxes, ha=ha, va="center",
             fontsize=7.5, color=c2, zorder=6)
    axR.set_ylim(0, 3.5)
    axR.set_yticks([0, 1, 2, 3])
    axR.set_title(TITLES[k], fontsize=13)

    # ---------------- population
    xp = to_num(START_DATES[k], p["p_days"])
    xa = to_num(START_DATES[k], p["a_days"])
    xs = to_num(START_DATES[k], p["s_days"])
    axP.fill_between(xp, p["rec_lo"], p["rec_hi"], color=REC_FILL, lw=0, zorder=2)
    axP.plot(xp, p["rec"], color=REC_LINE, lw=1.5, zorder=3)
    axP.fill_between(xa, p["asy_lo"], p["asy_hi"], color=ASY_FILL, lw=0, zorder=4)
    axP.plot(xa, p["asy"], color=ASY_LINE, lw=1.5, zorder=5)
    axP.plot(xs, p["sym"], color=SYM_LINE, lw=1.8, zorder=6)
    axP.set_ylim(0, POP_YMAX[k])
    axP.yaxis.set_major_locator(FixedLocator(POP_TICKS[k]))
    axP.yaxis.set_major_formatter(fmt_pct(POP_DEC[k]))
    axP.text(4 / AX_W, 0.951,
             f"I (Jun 15): {I_LAST[k]:.2f}% (95%CI: {I_LAST_LO[k]:.2f}%-{I_LAST_HI[k]:.2f}%)",
             transform=axP.transAxes, ha="left", va="center", fontsize=9, color="black")
    axP.text(4 / AX_W, 0.868,
             f"R (Jun 15): {REC_LAST[k]:.2f}% (95%CI: {REC_LAST_LO[k]:.2f}%-{REC_LAST_HI[k]:.2f}%)",
             transform=axP.transAxes, ha="left", va="center", fontsize=9, color="#1f33c8")

    # ---------------- symptomatic
    axS.plot(xs, p["sym"], color=SYM_LINE, lw=2.6, solid_capstyle="butt",
             solid_joinstyle="round")
    axS.set_ylim(0, SYM_YMAX[k])
    axS.yaxis.set_major_locator(FixedLocator(SYM_TICKS[k]))
    axS.yaxis.set_major_formatter(fmt_pct(2))
    axS.xaxis.set_major_formatter(mdates.DateFormatter("%b"))

    for ax in (axR, axP, axS):
        ax.set_xlim(x0, x1)
        ax.xaxis.set_major_locator(mdates.MonthLocator())
        ax.xaxis.set_minor_locator(mdates.DayLocator())
        ax.tick_params(axis="x", which="major", length=3.5, width=0.8, pad=2.5)
        ax.tick_params(axis="x", which="minor", length=1.8, width=0.6)
        ax.tick_params(axis="y", length=3.5, pad=2.5)
        ax.tick_params(labelsize=9)
        for s in ax.spines.values():
            s.set_linewidth(0.8)
    axR.tick_params(labelbottom=False)
    axP.tick_params(labelbottom=False)

    if col == 0:
        axR.set_ylabel(r"$R(t)$", fontsize=11)
        axR.yaxis.set_label_coords(-0.182, 0.5)
        axP.set_ylabel("population", fontsize=9)
        axP.yaxis.set_label_coords(-0.172, 0.5)
        axS.set_ylabel("population", fontsize=9)
        axS.yaxis.set_label_coords(-0.172, 0.5)

    if k == 0:
        handles = [Patch(facecolor=SYM_FILL, label="symptomatic infectious"),
                   Patch(facecolor=ASY_FILL, label="asymptomatic infectious"),
                   Patch(facecolor=REC_FILL, label="recovered")]
        axP.legend(handles=handles, loc="center left", bbox_to_anchor=(0.3, 0.235),
                   frameon=False, fontsize=9, handlelength=2.2)
        axS.legend(handles=[Patch(facecolor=SYM_FILL, label="symptomatic infectious")],
                   loc="upper right", bbox_to_anchor=(0.974, 1.0),
                   frameon=False, fontsize=9, handlelength=2.2)

fig.savefig("out.png", dpi=100)
